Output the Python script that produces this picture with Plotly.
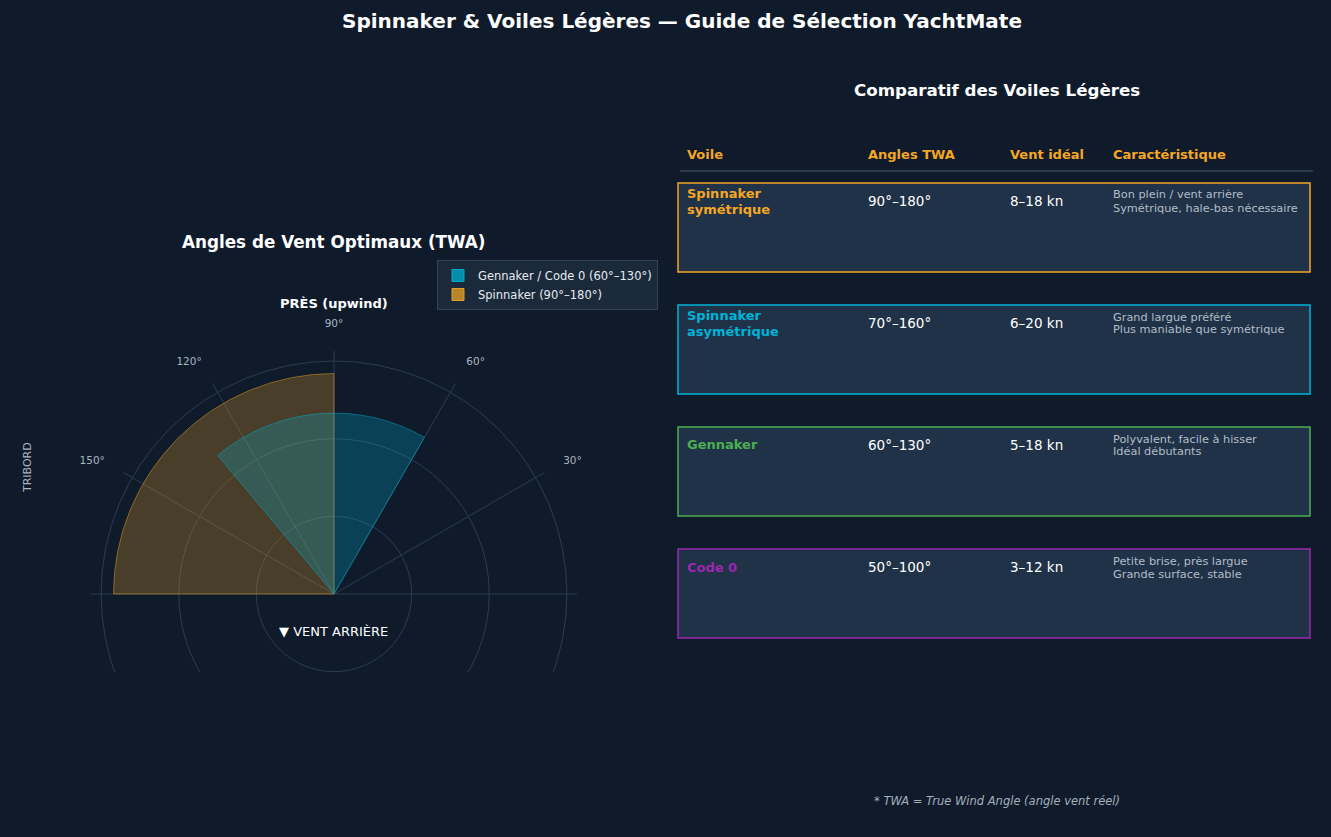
import plotly.graph_objects as go

W, H = 1331, 837
BG = "#0f1b2b"
FONT = "DejaVu Sans"

# polar chart: optimal true wind angle ranges
wedge_names = ["Spinnaker (90°–180°)", "Gennaker / Code 0 (60°–130°)"]
wedge_start = [90, 60]
wedge_end = [180, 130]
wedge_reach = [2.84, 2.33]
wedge_rgb = ["245,166,35", "0,180,216"]

angle_ticks = [0, 30, 60, 90, 120, 150, 180]
angle_labels = ["", "30°", "60°", "90°", "120°", "150°", ""]
ring_ticks = [1, 2, 3]

# comparison table
headers = ["Voile", "Angles TWA", "Vent idéal", "Caractéristique"]
sail_names = [["Spinnaker", "symétrique"], ["Spinnaker", "asymétrique"], ["Gennaker"], ["Code 0"]]
twa_ranges = ["90°–180°", "70°–160°", "60°–130°", "50°–100°"]
wind_ranges = ["8–18 kn", "6–20 kn", "5–18 kn", "3–12 kn"]
features = [
    ["Bon plein / vent arrière", "Symétrique, hale-bas nécessaire"],
    ["Grand largue préféré", "Plus maniable que symétrique"],
    ["Polyvalent, facile à hisser", "Idéal débutants"],
    ["Petite brise, près largue", "Grande surface, stable"],
]
sail_colors = ["#f5a623", "#00b4d8", "#4caf50", "#9c27b0"]


def px_x(x):
    return x / W


def px_y(y):
    return 1 - y / H


def note(text, x, y, size, color="#ffffff", bold=False, xanchor="center", **kw):
    if bold:
        text = f"<b>{text}</b>"
    return dict(
        text=text, x=px_x(x), y=px_y(y), xref="paper", yref="paper",
        xanchor=xanchor, yanchor="middle", showarrow=False, align="left",
        font=dict(family=FONT, size=size, color=color), **kw,
    )


def stacked(lines, x, mid, gap, size, color, bold=False):
    # one annotation per line so the line spacing can be set exactly
    first = mid - gap * (len(lines) - 1) / 2
    return [note(t, x, first + k * gap, size, color=color, bold=bold, xanchor="left")
            for k, t in enumerate(lines)]


fig = go.Figure()

for name, a0, a1, reach, rgb in zip(wedge_names, wedge_start, wedge_end, wedge_reach, wedge_rgb):
    fig.add_trace(go.Barpolar(
        r=[reach], theta=[(a0 + a1) / 2], width=[a1 - a0], name=name,
        marker=dict(color=f"rgba({rgb},0.25)", line=dict(color=f"rgba({rgb},0.45)", width=1)),
        showlegend=False, hoverinfo="name",
    ))

# legend entries (stronger swatches than the translucent wedges)
for name, rgb in list(zip(wedge_names, wedge_rgb))[::-1]:
    fig.add_trace(go.Barpolar(
        r=[0], theta=[0], width=[1], name=name,
        marker=dict(color=f"rgba({rgb},0.72)", line=dict(color=f"rgba({rgb},0.9)", width=1)),
        hoverinfo="skip",
    ))

R = 243
cx, cy = 334, 594
fig.update_layout(
    width=W, height=H,
    paper_bgcolor=BG, plot_bgcolor=BG,
    margin=dict(l=0, r=0, t=0, b=0),
    font=dict(family=FONT, color="#ffffff"),
    polar=dict(
        domain=dict(x=[px_x(cx - R), px_x(cx + R)], y=[0, px_y(cy - R)]),
        bgcolor="rgba(0,0,0,0)",
        angularaxis=dict(
            rotation=0, direction="counterclockwise",
            tickmode="array", tickvals=angle_ticks, ticktext=angle_labels,
            ticks="outside", ticklen=19, tickcolor="rgba(0,0,0,0)",
            tickfont=dict(size=10.5, color="#aab4c0"),
            showline=False, gridcolor="#2b3d50", gridwidth=1,
        ),
        radialaxis=dict(
            range=[0, 3.13], tickmode="array", tickvals=ring_ticks,
            showticklabels=False, ticks="", showline=False,
            gridcolor="#2b3d50", gridwidth=1,
        ),
    ),
    legend=dict(
        x=px_x(437), y=px_y(260), xanchor="left", yanchor="top",
        bgcolor="#1b2a3b", bordercolor="#31445a", borderwidth=1,
        font=dict(size=11.5, color="#e6ebf0"), traceorder="normal",
    ),
)

shapes = [
    # hide the lower part of the polar grid
    dict(type="rect", xref="paper", yref="paper", x0=0, x1=px_x(640),
         y0=0, y1=px_y(672), fillcolor=BG, line=dict(width=0), layer="above"),
    dict(type="line", xref="paper", yref="paper", x0=px_x(680), x1=px_x(1313),
         y0=px_y(171), y1=px_y(171), line=dict(color="#2c3b4b", width=2)),
]

annotations = [
    note("Spinnaker & Voiles Légères — Guide de Sélection YachtMate", 682, 21, 20, bold=True),
    note("Angles de Vent Optimaux (TWA)", 334, 242, 16.8, bold=True),
    note("PRÈS (upwind)", 334, 303, 13, bold=True),
    note("▼ VENT ARRIÈRE", 334, 631, 13),
    note("TRIBORD", 28, 468, 11, color="#aab4c0", textangle=-90),
    note("Comparatif des Voiles Légères", 997, 90, 16.7, bold=True),
    note("<i>* TWA = True Wind Angle (angle vent réel)</i>", 997, 801, 11.5, color="#a4afbb"),
]

col_x = [685, 866, 1008, 1111]
for x, head in zip(col_x, headers):
    annotations.append(note(head, x, 154, 13, color="#f5a623", bold=True, xanchor="left"))

for i, (name, twa, wind, feat, color) in enumerate(zip(sail_names, twa_ranges, wind_ranges, features, sail_colors)):
    top = 183 + 122 * i
    shapes.append(dict(
        type="rect", xref="paper", yref="paper",
        x0=px_x(678), x1=px_x(1310), y0=px_y(top + 89), y1=px_y(top),
        fillcolor="#1f3247", line=dict(color=color, width=1.5), layer="below",
    ))
    mid = top + 18
    annotations += stacked(name, col_x[0], mid, 16, 13, color, bold=True)
    annotations.append(note(twa, col_x[1], mid, 13.5, xanchor="left"))
    annotations.append(note(wind, col_x[2], mid, 13.5, xanchor="left"))
    annotations += stacked(feat, col_x[3], mid + 0.5, 13, 11.3, "#b3bdc8")

fig.update_layout(shapes=shapes, annotations=annotations)

fig.write_html(
    "out.html",
    config={"displayModeBar": False},
    post_script=f"document.body.style.margin='0';document.body.style.background='{BG}';",
)
